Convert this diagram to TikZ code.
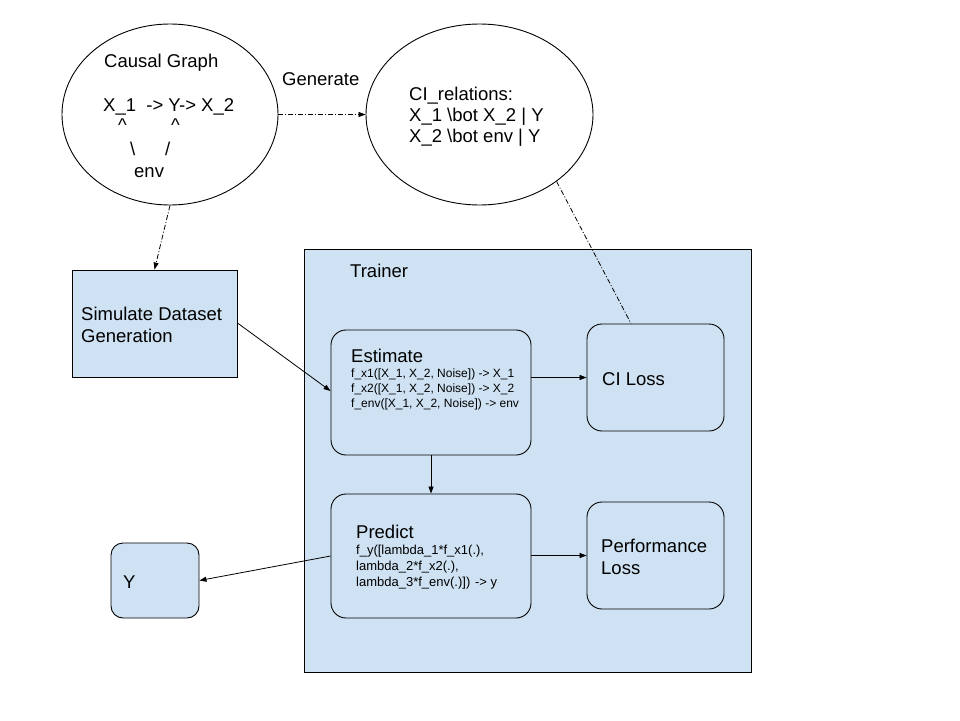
\documentclass[tikz,border=0pt]{standalone}
\usepackage{fontspec}
\setmainfont{Liberation Sans}
\usetikzlibrary{shapes.geometric,arrows.meta}
\definecolor{lblue}{HTML}{CFE2F3}
\tikzset{
  box/.style={draw, fill=lblue, line width=0.9pt, inner sep=0pt},
  rbox/.style={box, rounded corners=15pt},
  oval/.style={draw, ellipse, line width=0.9pt, inner sep=0pt},
  big/.style={font=\fontsize{18.5}{21}\selectfont, anchor=base west, inner sep=0pt},
  smalltxt/.style={font=\fontsize{12}{15}\selectfont, anchor=base west, inner sep=0pt},
  midtxt/.style={font=\fontsize{13}{16}\selectfont, anchor=base west, inner sep=0pt},
  conn/.style={line width=0.8pt, -{Triangle[length=7pt,width=5pt]}},
  dd/.style={line width=0.8pt, dash pattern=on 5pt off 2pt on 1pt off 2pt},
  ddarrow/.style={dd, -{Triangle[length=7pt,width=5pt]}}
}
\begin{document}
\begin{tikzpicture}[x=1pt,y=-1pt]
\useasboundingbox (0,0) rectangle (960,720);

% ellipses
\node[oval, minimum width=216pt, minimum height=181pt] (cg) at (170,114.5) {};
\node[oval, minimum width=227pt, minimum height=181pt] (ci) at (479.5,114.5) {};

% causal graph text
\node[big] (cgtitle) at (104,67) {Causal Graph};
\node[big] (cgl1) at (103,111) {X\_1\ \ -> Y-> X\_2};
\node[big] (cgl2a) at (118,131) {\textasciicircum};
\node[big] (cgl2b) at (171,131) {\textasciicircum};
\node[big] (cgl3a) at (130,155) {\textbackslash};
\node[big] (cgl3b) at (165,155) {/};
\node[big] (cgl4) at (134,177) {env};

\node[big] (gen) at (282,85) {Generate};

% CI relations
\node[big] (cit1) at (409,100) {CI\_relations:};
\node[big] (cit2) at (409,121) {X\_1 \textbackslash bot X\_2 | Y};
\node[big] (cit3) at (409,142) {X\_2 \textbackslash bot env | Y};

% simulate
\node[box, minimum width=165pt, minimum height=107pt] (sim) at (154.5,323.5) {};
\node[big] (simt1) at (81,320) {Simulate Dataset};
\node[big] (simt2) at (81,342) {Generation};

% trainer
\node[box, minimum width=447pt, minimum height=423pt] (tr) at (527.5,460.5) {};
\node[big] (trt) at (350,277) {Trainer};

% estimate
\node[rbox, minimum width=200pt, minimum height=125pt] (est) at (431,392.5) {};
\node[big] (estt) at (351,362) {Estimate};
\node[smalltxt] (este1) at (351,377) {f\_x1([X\_1, X\_2, Noise]) -> X\_1};
\node[smalltxt] (este2) at (351,392) {f\_x2([X\_1, X\_2, Noise]) -> X\_2};
\node[smalltxt] (este3) at (351,407) {f\_env([X\_1, X\_2, Noise]) -> env};

% CI loss
\node[rbox, minimum width=137pt, minimum height=107pt] (cil) at (655.5,377.5) {};
\node[big] (cilt) at (602,385) {CI Loss};

% predict
\node[rbox, minimum width=200pt, minimum height=124pt] (pred) at (431,556) {};
\node[big] (predt) at (356,538) {Predict};
\node[midtxt] (prede1) at (356,554) {f\_y([lambda\_1*f\_x1(.),};
\node[midtxt] (prede2) at (356,570) {lambda\_2*f\_x2(.),};
\node[midtxt] (prede3) at (356,586) {lambda\_3*f\_env(.)]) -> y};

% performance loss
\node[rbox, minimum width=137pt, minimum height=107pt] (perf) at (655.5,555.5) {};
\node[big] (perft1) at (601,552) {Performance};
\node[big] (perft2) at (601,574) {Loss};

% Y
\node[box, rounded corners=12pt, minimum width=88pt, minimum height=75pt] (yb) at (155,580.5) {};
\node[big] (ybt) at (123,588) {Y};

% connectors
\draw[ddarrow] (cg.east) -- (ci.west);
\draw[ddarrow] (cg.south) -- (sim.north);
\draw[dd] (ci.-41.5) -- ([xshift=-24.5pt]cil.north);
\draw[conn] ([yshift=0.5pt]sim.east) -- ([yshift=1.5pt]est.west);
\draw[conn] (est.south) -- (pred.north);
\draw[conn] (est.east |- cil.west) -- (cil.west);
\draw[conn] (pred.east |- perf.west) -- (perf.west);
\draw[conn] (pred.west) -- (yb.east);
\end{tikzpicture}
\end{document}
